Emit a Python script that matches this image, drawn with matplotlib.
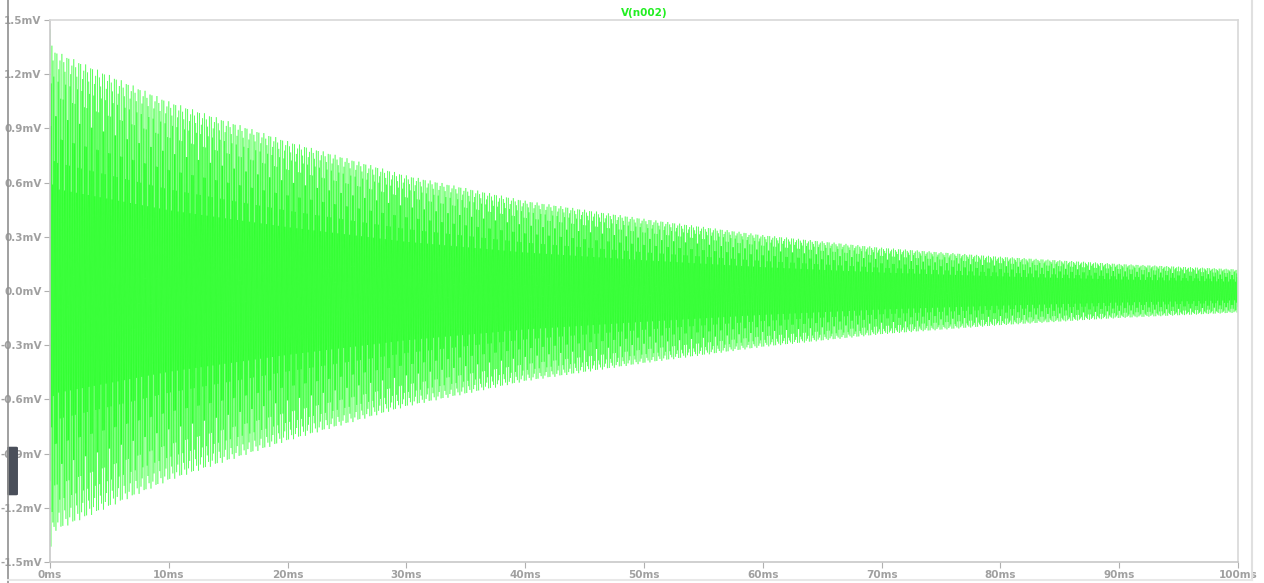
import numpy as np
import matplotlib
matplotlib.use("Agg")
import matplotlib.pyplot as plt
from matplotlib.collections import LineCollection
from matplotlib.lines import Line2D
from matplotlib.patches import FancyBboxPatch

# envelope of V(n002) (ms, mV)
env_ms = [0, 0.4, 10, 20, 30, 40, 50, 60, 70, 80, 90, 100]
env_mv = [1.45, 1.33, 1.05, 0.83, 0.64, 0.50, 0.40, 0.31, 0.24, 0.19, 0.15, 0.12]
carrier_khz = 19.0
step_ms = 0.02

y_ticks = [-1.5, -1.2, -0.9, -0.6, -0.3, 0.0, 0.3, 0.6, 0.9, 1.2, 1.5]
x_ticks = [0, 10, 20, 30, 40, 50, 60, 70, 80, 90, 100]

t = np.arange(0, 100 + step_ms, step_ms)
v = np.interp(t, env_ms, env_mv) * np.cos(2 * np.pi * carrier_khz * t)

fig = plt.figure(figsize=(12.64, 5.83), dpi=100)
ax = fig.add_axes([50 / 1264, 21 / 583, 1188 / 1264, 542 / 583])

# draw each step separately so overlapping strokes build up the colour
pts = np.column_stack([t, v])
segs = np.stack([pts[:-1], pts[1:]], axis=1)
ax.add_collection(LineCollection(segs, colors='#00ff00', linewidths=0.7, alpha=0.4))

ax.set_xlim(0, 100)
ax.set_ylim(-1.5, 1.5)
ax.set_xticks(x_ticks)
ax.set_yticks(y_ticks)
ax.set_xticklabels([f"{x}ms" for x in x_ticks])
ax.set_yticklabels([f"{y:.1f}mV" for y in y_ticks])
ax.tick_params(colors='#b0b0b0', labelcolor='#a0a0a0', labelsize=7.5,
               length=4, width=0.8, pad=2)
for lab in ax.get_xticklabels() + ax.get_yticklabels():
    lab.set_fontweight('bold')
for s in ax.spines.values():
    s.set_color('#d8d8d8')
    s.set_linewidth(1.2)
ax.spines['left'].set_color('#c8c8c8')
ax.spines['bottom'].set_color('#c8c8c8')

ax.set_title('V(n002)', color='#22ee22', fontsize=7.5, fontweight='bold', pad=3)

# window frame around the plot
fig.add_artist(Line2D([8 / 1264, 8 / 1264], [0, 1], color='#909090', linewidth=1.2))
fig.add_artist(Line2D([1252 / 1264, 1252 / 1264], [3 / 583, 1], color='#e0e0e0', linewidth=1.5))
fig.add_artist(Line2D([8 / 1264, 1252 / 1264], [3 / 583, 3 / 583], color='#e8e8e8', linewidth=1.5))
fig.add_artist(FancyBboxPatch((9 / 1264, 89 / 583), 7 / 1264, 46 / 583,
                              boxstyle='round,pad=0.001', transform=fig.transFigure,
                              facecolor='#4a4f5a', edgecolor='#4a4f5a'))

fig.savefig('out.png', dpi=100)
